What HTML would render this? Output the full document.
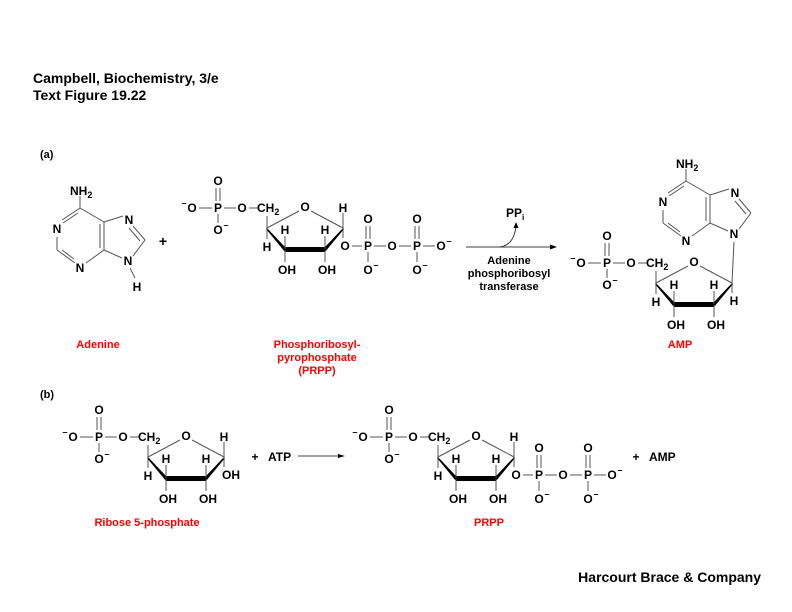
<!DOCTYPE html>
<html><head><meta charset="utf-8"><style>
html,body{margin:0;padding:0;background:#fff;}
svg{display:block;}
text{font-family:"Liberation Sans",Arial,sans-serif;font-weight:bold;fill:#000;}
.l{stroke:#555;stroke-width:1;fill:none;}
.r{fill:#ff0000;}
</style></head><body>
<svg width="792" height="612" viewBox="0 0 792 612" xmlns="http://www.w3.org/2000/svg">
<defs>
<g id="rib">
  <text x="192" y="212" font-size="12" text-anchor="middle">O</text>
  <text x="184" y="206" font-size="9" text-anchor="middle">–</text>
  <line class="l" x1="199" y1="208" x2="212" y2="208"/>
  <text x="218" y="212" font-size="12" text-anchor="middle">P</text>
  <line class="l" x1="224" y1="208" x2="236" y2="208"/>
  <text x="242" y="212" font-size="12" text-anchor="middle">O</text>
  <line class="l" x1="249" y1="208" x2="258" y2="208"/>
  <text x="257" y="212" font-size="12">CH<tspan font-size="9" dy="3">2</tspan></text>
  <text x="218" y="185" font-size="12" text-anchor="middle">O</text>
  <line class="l" x1="216" y1="188" x2="216" y2="201"/>
  <line class="l" x1="220" y1="188" x2="220" y2="201"/>
  <line class="l" x1="218" y1="214" x2="218" y2="223"/>
  <text x="218" y="234" font-size="12" text-anchor="middle">O</text>
  <text x="226" y="228" font-size="9" text-anchor="middle">–</text>
  <line class="l" x1="267" y1="216" x2="267" y2="228"/>
  <line class="l" x1="267" y1="228" x2="299" y2="211"/>
  <text x="305" y="211" font-size="12" text-anchor="middle">O</text>
  <line class="l" x1="311" y1="211" x2="343" y2="228"/>
  <polygon points="267,228 285,247 285,252 266,229" fill="#000"/>
  <polygon points="343,228 325,247 325,252 344,229" fill="#000"/>
  <line x1="285" y1="249.5" x2="325" y2="249.5" stroke="#000" stroke-width="5"/>
  <line class="l" x1="267" y1="228" x2="267" y2="239"/>
  <text x="267" y="251" font-size="12" text-anchor="middle">H</text>
  <line class="l" x1="285" y1="249" x2="285" y2="236"/>
  <text x="285" y="234" font-size="12" text-anchor="middle">H</text>
  <line class="l" x1="325" y1="249" x2="325" y2="236"/>
  <text x="325" y="234" font-size="12" text-anchor="middle">H</text>
  <line class="l" x1="285" y1="250" x2="285" y2="262"/>
  <text x="287" y="274" font-size="12" text-anchor="middle">OH</text>
  <line class="l" x1="325" y1="250" x2="325" y2="262"/>
  <text x="327" y="274" font-size="12" text-anchor="middle">OH</text>
</g>
<g id="pp">
  <line class="l" x1="343" y1="213" x2="343" y2="228"/>
  <text x="343" y="212" font-size="12" text-anchor="middle">H</text>
  <line class="l" x1="343" y1="228" x2="343" y2="238"/>
  <text x="345" y="250" font-size="12" text-anchor="middle">O</text>
  <line class="l" x1="352" y1="246" x2="362" y2="246"/>
  <text x="368" y="250" font-size="12" text-anchor="middle">P</text>
  <line class="l" x1="374" y1="246" x2="386" y2="246"/>
  <text x="392" y="250" font-size="12" text-anchor="middle">O</text>
  <line class="l" x1="399" y1="246" x2="411" y2="246"/>
  <text x="417" y="250" font-size="12" text-anchor="middle">P</text>
  <line class="l" x1="423" y1="246" x2="435" y2="246"/>
  <text x="441" y="250" font-size="12" text-anchor="middle">O</text>
  <text x="449" y="244" font-size="9" text-anchor="middle">–</text>
  <text x="368" y="223" font-size="12" text-anchor="middle">O</text>
  <line class="l" x1="366" y1="226" x2="366" y2="239"/>
  <line class="l" x1="370" y1="226" x2="370" y2="239"/>
  <line class="l" x1="368" y1="252" x2="368" y2="262"/>
  <text x="368" y="274" font-size="12" text-anchor="middle">O</text>
  <text x="376" y="268" font-size="9" text-anchor="middle">–</text>
  <text x="417" y="223" font-size="12" text-anchor="middle">O</text>
  <line class="l" x1="415" y1="226" x2="415" y2="239"/>
  <line class="l" x1="419" y1="226" x2="419" y2="239"/>
  <line class="l" x1="417" y1="252" x2="417" y2="262"/>
  <text x="417" y="274" font-size="12" text-anchor="middle">O</text>
  <text x="425" y="268" font-size="9" text-anchor="middle">–</text>
</g>
<g id="ade">
  <line class="l" x1="80" y1="196" x2="80" y2="208"/>
  <text x="70" y="195" font-size="12">NH<tspan font-size="9" dy="3">2</tspan></text>
  <line class="l" x1="80" y1="208" x2="62" y2="220"/>
  <line class="l" x1="78" y1="213" x2="63" y2="223"/>
  <text x="57" y="233" font-size="12" text-anchor="middle">N</text>
  <line class="l" x1="57" y1="237" x2="57" y2="250"/>
  <line class="l" x1="57" y1="250" x2="75" y2="263"/>
  <line class="l" x1="62" y1="250" x2="74" y2="259"/>
  <text x="80" y="272" font-size="12" text-anchor="middle">N</text>
  <line class="l" x1="86" y1="263" x2="104" y2="250"/>
  <line class="l" x1="104" y1="250" x2="104" y2="222"/>
  <line class="l" x1="100" y1="248" x2="100" y2="224"/>
  <line class="l" x1="104" y1="222" x2="80" y2="208"/>
  <line class="l" x1="104" y1="222" x2="123" y2="216"/>
  <text x="129" y="224" font-size="12" text-anchor="middle">N</text>
  <line class="l" x1="133" y1="226" x2="145" y2="240"/>
  <line class="l" x1="129" y1="228" x2="140" y2="241"/>
  <line class="l" x1="145" y1="240" x2="133" y2="256"/>
  <text x="128" y="265" font-size="12" text-anchor="middle">N</text>
  <line class="l" x1="122" y1="258" x2="104" y2="250"/>
</g>
</defs>

<text x="33" y="83" font-size="14">Campbell, Biochemistry, 3/e</text>
<text x="33" y="100" font-size="14">Text Figure 19.22</text>
<text x="40" y="158" font-size="11">(a)</text>
<text x="40" y="398" font-size="11">(b)</text>

<use href="#ade"/>
<line class="l" x1="130" y1="268" x2="135" y2="278"/>
<text x="137" y="291" font-size="12" text-anchor="middle">H</text>
<text x="163" y="246" font-size="14" text-anchor="middle">+</text>

<use href="#rib"/>
<use href="#pp"/>

<line x1="466" y1="247" x2="552" y2="247" stroke="#666" stroke-width="1.2"/>
<polygon points="557,247 550,244.5 550,249.5" fill="#000"/>
<path d="M500,247 Q514,245 516,226" stroke="#333" fill="none" stroke-width="1"/>
<polygon points="516,222 513.5,228 518.5,228" fill="#000"/>
<text x="506" y="217" font-size="12">PP<tspan font-size="8" dy="3">i</tspan></text>
<text x="509" y="264" font-size="11" text-anchor="middle">Adenine</text>
<text x="509" y="277" font-size="11" text-anchor="middle">phosphoribosyl</text>
<text x="509" y="290" font-size="11" text-anchor="middle">transferase</text>

<g transform="translate(606,-27)"><use href="#ade"/></g>
<g transform="translate(389,55)"><use href="#rib"/></g>
<line class="l" x1="734" y1="242" x2="732" y2="283"/>
<line class="l" x1="732" y1="283" x2="732" y2="293"/>
<text x="734" y="305" font-size="12" text-anchor="middle">H</text>

<text class="r" x="98" y="348" font-size="11" text-anchor="middle">Adenine</text>
<text class="r" x="317" y="348" font-size="11" text-anchor="middle">Phosphoribosyl-</text>
<text class="r" x="317" y="361" font-size="11" text-anchor="middle">pyrophosphate</text>
<text class="r" x="317" y="374" font-size="11" text-anchor="middle">(PRPP)</text>
<text class="r" x="680" y="348" font-size="11" text-anchor="middle">AMP</text>

<g transform="translate(-119,229)">
  <use href="#rib"/>
  <line class="l" x1="343" y1="213" x2="343" y2="228"/>
  <text x="343" y="212" font-size="12" text-anchor="middle">H</text>
  <line class="l" x1="343" y1="228" x2="343" y2="238"/>
  <text x="350" y="250" font-size="12" text-anchor="middle">OH</text>
</g>
<text x="255" y="461" font-size="12" text-anchor="middle">+</text>
<text x="268" y="461" font-size="12">ATP</text>
<line x1="298" y1="456" x2="340" y2="456" stroke="#444" stroke-width="1"/>
<polygon points="345,456 338,454 338,458" fill="#000"/>

<g transform="translate(171,229)">
  <use href="#rib"/>
  <use href="#pp"/>
</g>
<text x="636" y="461" font-size="12" text-anchor="middle">+</text>
<text x="649" y="461" font-size="12">AMP</text>

<text class="r" x="147" y="526" font-size="11" text-anchor="middle">Ribose 5-phosphate</text>
<text class="r" x="489" y="526" font-size="11" text-anchor="middle">PRPP</text>

<text x="761" y="582" font-size="14" text-anchor="end">Harcourt Brace &amp; Company</text>
</svg>
</body></html>
